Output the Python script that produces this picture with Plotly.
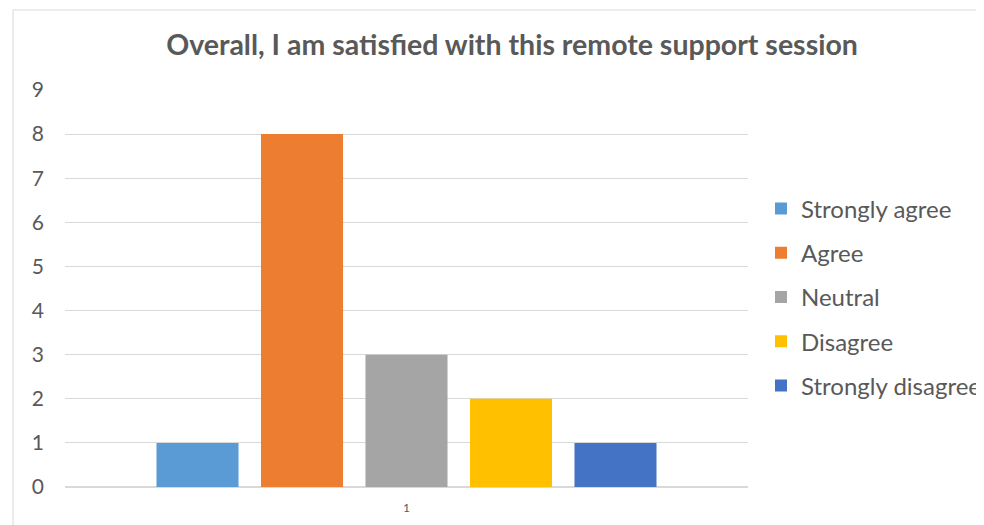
import plotly.graph_objects as go

categories = ["1"]
series_names = ["Strongly agree", "Agree", "Neutral", "Disagree", "Strongly disagree"]
series_values = [[1], [8], [3], [2], [1]]
colors = ["#5B9BD5", "#ED7D31", "#A5A5A5", "#FFC000", "#4472C4"]
y_ticks = [0, 1, 2, 3, 4, 5, 6, 7, 8, 9]

FONT = "Lato"
GRAY = "#595959"

# page body has an 8px margin; figure is sized/offset to compensate
W, H = 976, 517
L, T, PW, PH = 57, 82, 683, 397

fig = go.Figure()
for name, vals, col in zip(series_names, series_values, colors):
    fig.add_trace(go.Bar(x=categories, y=vals, name=name, marker_color=col,
                         marker_line_width=0, legendgroup=name))

fig.update_layout(
    width=W, height=H,
    margin=dict(l=L, r=W - L - PW, t=T, b=H - T - PH, autoexpand=False),
    paper_bgcolor="white", plot_bgcolor="white",
    barmode="group", bargap=0.235, bargroupgap=0.215,
    title=dict(text="<b>Overall, I am satisfied with this remote support session</b>",
               x=504 / W, xanchor="center", y=1 - 37 / H, yanchor="middle",
               font=dict(family=FONT, size=28.5, color=GRAY)),
    legend=dict(x=(753 - L) / PW, xanchor="left", y=(T + PH - 289) / PH, yanchor="middle",
                font=dict(family=FONT, size=24, color=GRAY),
                tracegroupgap=10, traceorder="grouped",
                bgcolor="rgba(0,0,0,0)"),
    showlegend=True,
)
fig.update_xaxes(type="category", showgrid=False, showline=False, zeroline=False,
                 tickfont=dict(family=FONT, size=12, color=GRAY), ticks="",
                 ticklabelstandoff=12)
fig.update_yaxes(range=[0, 9], tickvals=y_ticks, showgrid=True, gridcolor="#D9D9D9",
                 gridwidth=1, zeroline=True, zerolinecolor="#D9D9D9", showline=False,
                 tickfont=dict(family=FONT, size=21, color=GRAY), ticks="",
                 ticklabelstandoff=20)

fig.add_shape(type="rect", xref="paper", yref="paper",
              x0=(5 - L) / PW, x1=1.6, y0=-0.3, y1=(T + PH - 2) / PH,
              line=dict(color="#D9D9D9", width=1), fillcolor="rgba(0,0,0,0)", layer="below")

fig.write_html("out.html")
